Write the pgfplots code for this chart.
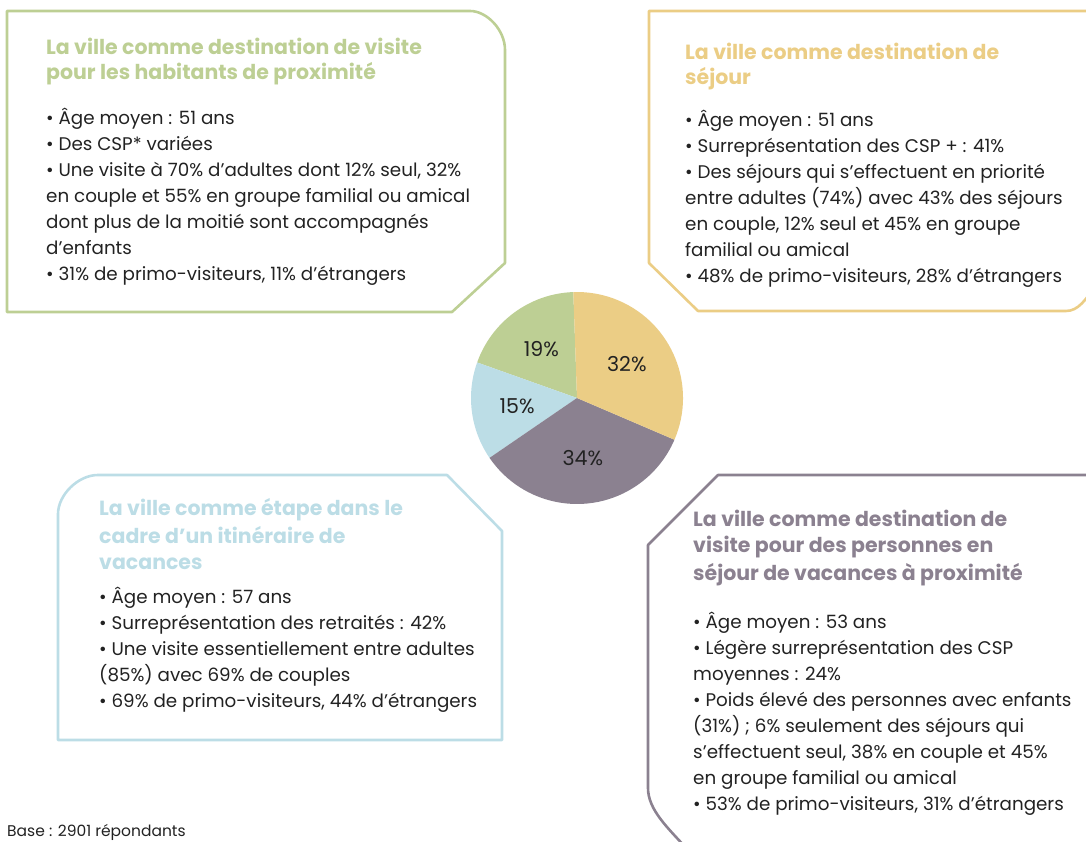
\documentclass[border=0pt]{standalone}
\usepackage{fontspec}
\setmainfont{Poppins}
\usepackage{pgfplots}
\pgfplotsset{compat=1.18}
\usepackage{pgfplotstable}

\definecolor{cgreen}{HTML}{BDCF94}
\definecolor{cyellow}{HTML}{EBCD85}
\definecolor{cblue}{HTML}{BCDDE6}
\definecolor{cpurple}{HTML}{8B8190}
\definecolor{ctext}{HTML}{222222}

% share of respondents per profile, counter-clockwise from the top
\pgfplotstableread{
val col
19 cgreen
15 cblue
34 cpurple
32 cyellow
}\piedata

\newcommand\ttl[4]{\node[anchor=base west,inner sep=0,text=#3,font=\fontsize{20.5}{24}\selectfont\bfseries] at (#1,841-#2) {#4};}
\newcommand\txt[3]{\node[anchor=base west,inner sep=0,text=ctext,font=\fontsize{18.3}{20}\selectfont] at (#1,841-#2) {#3};}

\begin{document}
\begin{tikzpicture}
\begin{scope}[x=1pt,y=1pt]
\useasboundingbox (0,0) rectangle (1086,841);
\clip (0,0) rectangle (1086,841);

% box outlines (y measured from the top, flipped)
\draw[cgreen,line width=2.6pt,line join=round]
  (7,841-312) -- (7,841-11) -- (470,841-11) .. controls (487,841-11) and (505,841-30) .. (505,841-50)
  -- (505,841-263) -- (452,841-312) -- cycle;
\draw[cyellow,line width=2.6pt,line join=round]
  (1100,841-11) -- (649,841-11) -- (649,841-263) -- (698,841-311) -- (1066,841-311)
  .. controls (1078,841-311) and (1086,841-300) .. (1096,841-284);
\draw[cblue,line width=2.6pt,line join=round]
  (98,841-475) -- (447,841-475) -- (502,841-531) -- (502,841-740) -- (58,841-740) -- (58,841-514)
  .. controls (58,841-495) and (78,841-475) .. (98,841-475);
\draw[cpurple,line width=2.6pt,line join=round]
  (1100,841-475) -- (718,841-475) -- (648,841-545) -- (648,841-788)
  .. controls (648,841-810) and (668,841-828) .. (688,841-850);

% box 1
\ttl{46}{55}{cgreen}{La ville comme destination de visite}
\ttl{46}{80}{cgreen}{pour les habitants de proximité}
\txt{46}{125}{• Âge moyen : 51 ans}
\txt{46}{151}{• Des CSP* variées}
\txt{46}{177}{• Une visite à 70\% d’adultes dont 12\% seul, 32\%}
\txt{46}{203}{en couple et 55\% en groupe familial ou amical}
\txt{46}{229}{dont plus de la moitié sont accompagnés}
\txt{46}{255}{d’enfants}
\txt{46}{281}{• 31\% de primo-visiteurs, 11\% d’étrangers}

% box 2
\ttl{685}{60}{cyellow}{La ville comme destination de}
\ttl{685}{85}{cyellow}{séjour}
\txt{685}{127}{• Âge moyen : 51 ans}
\txt{685}{153}{• Surreprésentation des CSP + : 41\%}
\txt{685}{179}{• Des séjours qui s’effectuent en priorité}
\txt{685}{205}{entre adultes (74\%) avec 43\% des séjours}
\txt{685}{231}{en couple, 12\% seul et 45\% en groupe}
\txt{685}{257}{familial ou amical}
\txt{685}{283}{• 48\% de primo-visiteurs, 28\% d’étrangers}

% box 3
\ttl{99}{516}{cblue}{La ville comme étape dans le}
\ttl{99}{543}{cblue}{cadre d’un itinéraire de}
\ttl{99}{570}{cblue}{vacances}
\txt{99}{603}{• Âge moyen : 57 ans}
\txt{99}{629}{• Surreprésentation des retraités : 42\%}
\txt{99}{655}{• Une visite essentiellement entre adultes}
\txt{99}{681}{(85\%) avec 69\% de couples}
\txt{99}{707}{• 69\% de primo-visiteurs, 44\% d’étrangers}

% box 4
\ttl{693}{527}{cpurple}{La ville comme destination de}
\ttl{693}{553}{cpurple}{visite pour des personnes en}
\ttl{693}{580}{cpurple}{séjour de vacances à proximité}
\txt{693}{628}{• Âge moyen : 53 ans}
\txt{693}{654}{• Légère surreprésentation des CSP}
\txt{693}{680}{moyennes : 24\%}
\txt{693}{706}{• Poids élevé des personnes avec enfants}
\txt{693}{732}{(31\%) ; 6\% seulement des séjours qui}
\txt{693}{758}{s’effectuent seul, 38\% en couple et 45\%}
\txt{693}{784}{en groupe familial ou amical}
\txt{693}{810}{• 53\% de primo-visiteurs, 31\% d’étrangers}

\node[anchor=base west,inner sep=0,text=ctext,font=\fontsize{15.5}{18}\selectfont] at (7,841-836) {Base : 2901 répondants};
\end{scope}

\begin{axis}[
  at={(577pt,443pt)}, anchor=center,
  scale only axis, width=212pt, height=212pt,
  xmin=-1, xmax=1, ymin=-1, ymax=1,
  hide axis,
]
\pgfplotsextra{
  \xdef\cum{92}
  \foreach \i in {0,...,3}{
    \pgfplotstablegetelem{\i}{val}\of\piedata \let\sliceval\pgfplotsretval
    \pgfplotstablegetelem{\i}{col}\of\piedata \let\slicecol\pgfplotsretval
    \pgfmathsetmacro\angA{\cum}
    \pgfmathsetmacro\angB{\cum+3.6*\sliceval}
    \pgfmathsetmacro\angM{(\angA+\angB)/2}
    \fill[fill=\slicecol] (axis cs:0,0) -- (axis cs:{cos(\angA)},{sin(\angA)})
      arc[start angle=\angA, end angle=\angB, radius=106pt] -- cycle;
    \node[text=ctext,font=\fontsize{20.5}{22}\selectfont] at (axis cs:{0.57*cos(\angM)},{0.57*sin(\angM)}) {\sliceval\%};
    \xdef\cum{\angB}
  }
}
\end{axis}
\end{tikzpicture}
\end{document}
